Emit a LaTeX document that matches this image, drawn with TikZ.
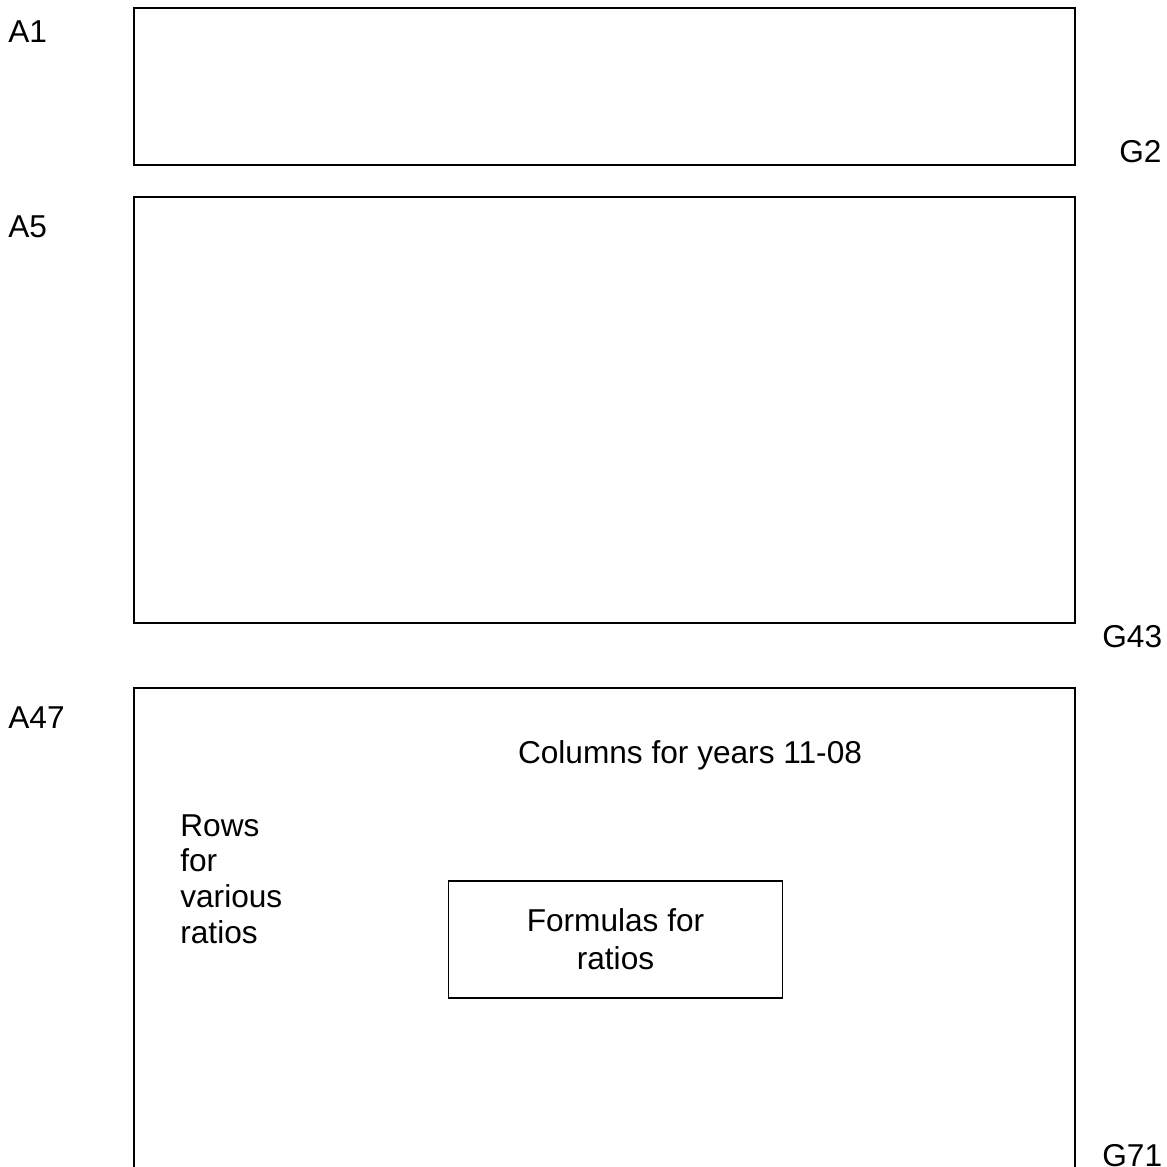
\documentclass[tikz,border=0pt]{standalone}
\usepackage{fontspec}
\setmainfont{Liberation Sans}
\begin{document}
\begin{tikzpicture}[x=0.02cm,y=-0.02cm,
  lbl/.style={inner sep=0pt,anchor=base west,font=\fontsize{18}{20.4}\selectfont},
  frame/.style={draw=black,line width=1pt},
  inbox/.style={draw=black,line width=1pt,minimum width=6.68cm,minimum height=2.34cm,align=center,font=\fontsize{18}{21.5}\selectfont}]
\useasboundingbox (0,0) rectangle (1167,1167);
\clip (0,0) rectangle (1167,1167);
% containers
\draw[frame] (134,8) rectangle (1075,165);
\draw[frame] (134,197) rectangle (1075,623);
\draw[frame] (134,1190) -- (134,688) -- (1075,688) -- (1075,1190);
% cell labels
\node[lbl] (a1) at (8,42) {A1};
\node[lbl] (g2) at (1119,162) {G2};
\node[lbl] (a5) at (8,237) {A5};
\node[lbl] (g43) at (1102,647) {G43};
\node[lbl] (a47) at (8,728) {A47};
\node[lbl] (g71) at (1102,1166) {G71};
% contents
\node[lbl,anchor=base] (cols) at (690,763) {Columns for years 11-08};
\node[lbl,align=left,anchor=north west] (rows) at (180,814) {Rows\\for\\various\\ratios};
\node[inbox] (form) at (615.5,939.5) {Formulas for\\ratios};
\end{tikzpicture}
\end{document}
